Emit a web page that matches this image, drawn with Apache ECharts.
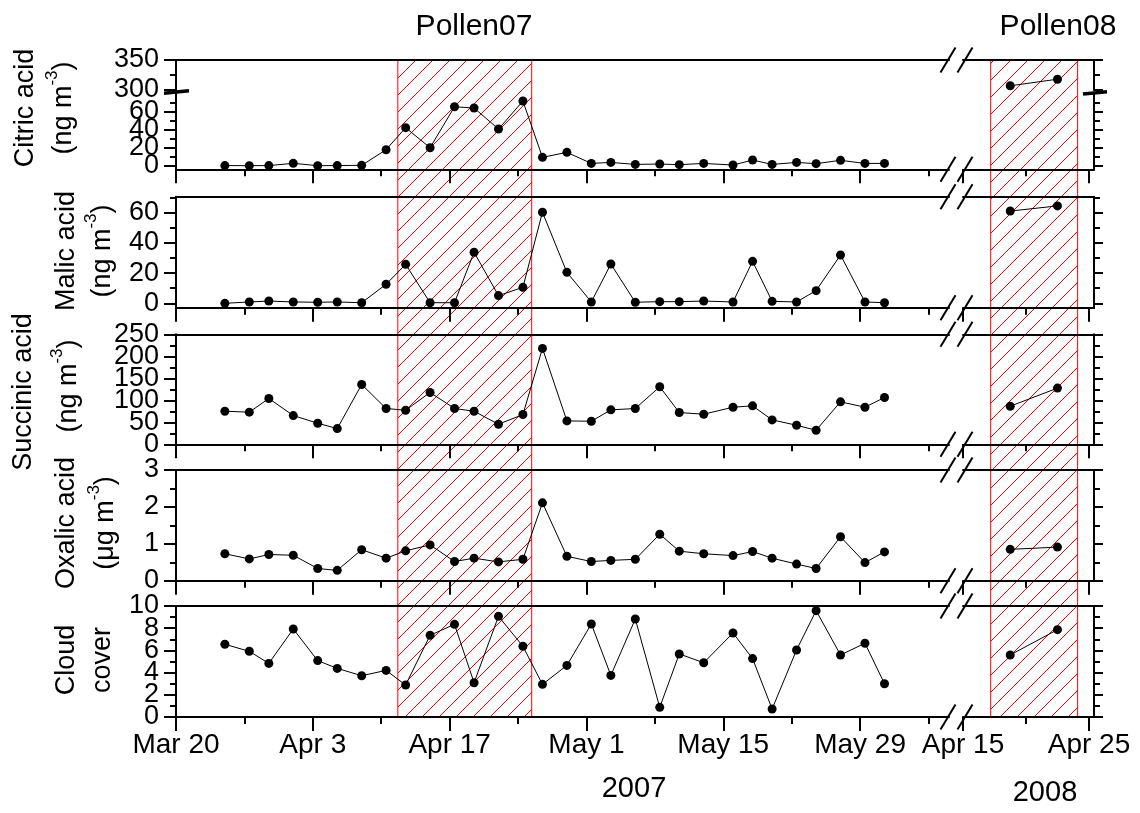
<!DOCTYPE html>
<html>
<head>
<meta charset="utf-8">
<script src="https://cdn.jsdelivr.net/npm/echarts@6/dist/echarts.min.js"></script>
<style>
  html, body { margin: 0; padding: 0; background: #fff; }
  #chart { width: 1140px; height: 813px; }
</style>
</head>
<body>
<div id="chart"></div>
<script>
// sampling days, counted from Mar 20 2007 / Apr 15 2008
var days07 = [5, 7.5, 9.5, 12, 14.5, 16.5, 19, 21.5, 23.5, 26, 28.5, 30.5, 33, 35.5, 37.5,
              40, 42.5, 44.5, 47, 49.5, 51.5, 54, 57, 59, 61, 63.5, 65.5, 68, 70.5, 72.5];
var days08 = [3.75, 7.5];

var citric07 = [0.5, 0.4, 0.5, 3, 0.4, 0.5, 0.8, 18, 42.3, 20.2, 65.4, 64, 40.8, 71.7, 9.6,
                15.1, 2.9, 4, 1.8, 2.2, 1.5, 2.9, 1.1, 6.6, 1.8, 4, 2.6, 6.3, 2.9, 2.9];
var citric08 = [307, 318];
var malic07 = [0, 0.9, 1.5, 0.9, 0.7, 0.9, 0.4, 12.6, 25.8, 0.4, 0.4, 33.8, 5.1, 10.6, 60.3,
               20.5, 0.9, 26, 0.7, 1.1, 1.1, 1.5, 0.9, 27.8, 1.3, 0.9, 8.4, 32, 0.9, 0.4];
var malic08 = [61.1, 64.5];
var succinic07 = [75.2, 73, 104.1, 65.3, 47.9, 35.7, 136, 81.3, 77.5, 117.8, 81.3, 75.2, 45.6, 67.6, 218,
                  53.2, 52.4, 78.3, 81.3, 130.7, 72.2, 68.4, 84.3, 87.4, 55.5, 43.3, 31.9, 96.5, 84.3, 106.4];
var succinic08 = [86.6, 127.7];
var oxalic07 = [0.73, 0.59, 0.71, 0.69, 0.33, 0.28, 0.84, 0.61, 0.81, 0.97, 0.52, 0.61, 0.51, 0.58, 2.11,
                0.66, 0.52, 0.55, 0.58, 1.26, 0.8, 0.73, 0.68, 0.79, 0.61, 0.45, 0.33, 1.19, 0.49, 0.78];
var oxalic08 = [0.85, 0.91];
var cloud07 = [6.55, 5.92, 4.83, 7.93, 5.08, 4.38, 3.72, 4.2, 2.88, 7.36, 8.35, 3.09, 9.07, 6.37, 2.94,
               4.65, 8.38, 3.75, 8.83, 0.87, 5.68, 4.89, 7.57, 5.26, 0.72, 6.04, 9.58, 5.59, 6.64, 3.0];
var cloud08 = [5.59, 7.87];

// pollen periods (day offsets)
var pollen07 = [22.7, 36.4];
var pollen08 = [2.2, 9.1];

// x ticks
var xMajor07 = [0, 14, 28, 42, 56, 70];
var xLabels07 = ['Mar 20', 'Apr 3', 'Apr 17', 'May 1', 'May 15', 'May 29'];
var xMinor07 = [7, 21, 35, 49, 63, 77];
var xMajor08 = [0, 10];
var xLabels08 = ['Apr 15', 'Apr 25'];
var xMinor08 = [5];

// y ticks
var citricHiTicks = [300, 350], citricHiMinor = [325];
var citricLoTicks = [0, 20, 40, 60], citricLoMinor = [10, 30, 50, 70];
var malicTicks = [0, 20, 40, 60], malicMinor = [10, 30, 50, 70];
var succinicTicks = [0, 50, 100, 150, 200, 250], succinicMinor = [25, 75, 125, 175, 225];
var oxalicTicks = [0, 1, 2, 3], oxalicMinor = [0.5, 1.5, 2.5];
var cloudTicks = [0, 2, 4, 6, 8, 10], cloudMinor = [1, 3, 5, 7, 9];

var FONT = 'Liberation Sans';
var LINE = {color: '#000', width: 2};

var seg07 = {left: 176, width: 773, min: 0, max: 79.1, major: xMajor07, minor: xMinor07, labels: xLabels07};
var seg08 = {left: 963, width: 131, min: 0, max: 10.4, major: xMajor08, minor: xMinor08, labels: xLabels08};

var rows = [
    {top: 60, height: 30, min: 300, max: 350, major: citricHiTicks, minor: citricHiMinor,
     d07: null, d08: citric08, topLine: true, botLine: false},
    {top: 93.5, height: 75.8, min: -3.6, max: 80, major: citricLoTicks, minor: citricLoMinor,
     d07: citric07, d08: null, topLine: false, botLine: true},
    {top: 196.7, height: 111, min: -2.9, max: 70.6, major: malicTicks, minor: malicMinor,
     d07: malic07, d08: malic08, topLine: true, botLine: true},
    {top: 334.3, height: 110, min: 0, max: 250, major: succinicTicks, minor: succinicMinor,
     d07: succinic07, d08: succinic08, topLine: true, botLine: true},
    {top: 470, height: 110.7, min: 0, max: 3, major: oxalicTicks, minor: oxalicMinor,
     d07: oxalic07, d08: oxalic08, topLine: true, botLine: true},
    {top: 606, height: 111, min: 0, max: 10, major: cloudTicks, minor: cloudMinor,
     d07: cloud07, d08: cloud08, topLine: true, botLine: true, last: true}
];

function zip(xs, ys) {
    return xs.map(function (x, i) { return [x, ys[i]]; });
}
function everyOther(list, start) {
    return list.filter(function (v, i) { return i % 2 === start; });
}

function axis(grid, pos, min, max, line, ticks, tickLen, labels, labelOpt) {
    return {
        type: 'value', gridIndex: grid, position: pos, min: min, max: max, z: 3,
        splitLine: {show: false},
        axisLine: {show: line, onZero: false, lineStyle: LINE},
        axisTick: ticks ? {show: true, inside: false, customValues: ticks, length: tickLen, lineStyle: LINE} : {show: false},
        axisLabel: labels && labels.length ? Object.assign({show: true, customValues: labels, color: '#000',
            fontFamily: FONT, fontSize: 28, showMinLabel: true, showMaxLabel: true, hideOverlap: false},
            labelOpt) : {show: false}
    };
}

var grids = [], xAxes = [], yAxes = [], series = [];

rows.forEach(function (row) {
    [seg07, seg08].forEach(function (seg, si) {
        var g = grids.length;
        grids.push({left: seg.left, top: row.top, width: seg.width, height: row.height, outerBoundsMode: 'none'});

        var xi = xAxes.length;
        xAxes.push(axis(g, 'bottom', seg.min, seg.max, row.botLine, row.botLine ? seg.major : null, 14,
            row.last ? seg.major : null, {margin: 14, formatter: function (v) {
                return seg.labels[seg.major.indexOf(v)] || '';
            }}));
        xAxes.push(axis(g, 'bottom', seg.min, seg.max, false, row.botLine ? seg.minor : null, 7, null));
        xAxes.push(axis(g, 'top', seg.min, seg.max, row.topLine, null, 0, null));

        // labels are shared between two overlaid axes so close labels are not dropped
        var yi = yAxes.length;
        var side = si === 0 ? 'left' : 'right';
        var yLab = {margin: 17, fontSize: 27};
        yAxes.push(axis(g, side, row.min, row.max, true, row.major, si === 0 ? 12 : 9,
            si === 0 ? everyOther(row.major, 0) : null, yLab));
        yAxes.push(axis(g, side, row.min, row.max, false, row.minor, 6,
            si === 0 ? everyOther(row.major, 1) : null, yLab));

        var d = si === 0 ? row.d07 : row.d08;
        if (d) {
            series.push({
                type: 'line', xAxisIndex: xi, yAxisIndex: yi,
                data: zip(si === 0 ? days07 : days08, d),
                symbol: 'circle', symbolSize: 9, showSymbol: true, clip: false, z: 5, silent: true,
                itemStyle: {color: '#000'}, lineStyle: {color: '#000', width: 1}
            });
        }
    });
});

function hatchCanvas() {
    var s = 17;
    var c = document.createElement('canvas');
    c.width = s; c.height = s;
    var ctx = c.getContext('2d');
    ctx.strokeStyle = '#ff0000';
    ctx.lineWidth = 1;
    ctx.beginPath();
    ctx.moveTo(0, s); ctx.lineTo(s, 0);
    ctx.moveTo(-s / 2, s / 2); ctx.lineTo(s / 2, -s / 2);
    ctx.moveTo(s / 2, s * 1.5); ctx.lineTo(s * 1.5, s / 2);
    ctx.stroke();
    return c;
}
var hatch = {image: hatchCanvas(), repeat: 'repeat'};

// full height grids for the pollen periods
[[seg07, pollen07], [seg08, pollen08]].forEach(function (p) {
    var seg = p[0], period = p[1];
    var g = grids.length;
    grids.push({left: seg.left, top: 60, width: seg.width, height: 657, outerBoundsMode: 'none'});
    var xi = xAxes.length, yi = yAxes.length;
    xAxes.push({type: 'value', gridIndex: g, min: seg.min, max: seg.max, show: false});
    yAxes.push({type: 'value', gridIndex: g, min: 0, max: 1, show: false});
    series.push({
        type: 'line', xAxisIndex: xi, yAxisIndex: yi, z: 1, silent: true,
        data: period.map(function (v) { return [v, 0.5]; }),
        showSymbol: false, lineStyle: {opacity: 0},
        markArea: {
            silent: true,
            itemStyle: {color: hatch, borderColor: '#ff0000', borderWidth: 1},
            label: {show: false},
            data: [[{xAxis: period[0]}, {xAxis: period[1]}]]
        }
    });
});

// texts and break marks
var RICH = {
    n: {fontFamily: FONT, fontSize: 27, lineHeight: 40},
    s: {fontFamily: FONT, fontSize: 17, lineHeight: 17, verticalAlign: 'top'}
};
function vtext(x, y, text) {
    return {
        type: 'text', x: x, y: y, rotation: Math.PI / 2, z: 10,
        style: {text: text, fill: '#000', font: '27px ' + FONT, align: 'center', verticalAlign: 'middle',
                textAlign: 'center', textVerticalAlign: 'middle', rich: RICH}
    };
}
function htext(x, y, text, size) {
    return {
        type: 'text', x: x, y: y, z: 10,
        style: {text: text, fill: '#000', font: size + 'px ' + FONT, align: 'center', verticalAlign: 'middle',
                textAlign: 'center', textVerticalAlign: 'middle'}
    };
}
var ngUnit = '{n|(ng m}{s|-3}{n|)}';
var ugUnit = '{n|(\u03bcg m}{s|-3}{n|)}';

var elements = [
    vtext(26, 108, 'Citric acid'), vtext(64, 108, ngUnit),
    vtext(67, 251, 'Malic acid'), vtext(103, 251, ngUnit),
    vtext(24, 392, 'Succinic acid'), vtext(69, 386, ngUnit),
    vtext(67, 523, 'Oxalic acid'), vtext(106, 523, ugUnit),
    vtext(67, 660, 'Cloud'), vtext(103, 660, 'cover'),
    htext(474, 27, 'Pollen07', 30), htext(1058, 27, 'Pollen08', 30),
    htext(634, 789, '2007', 29), htext(1045, 793, '2008', 29)
];

function seg(x1, y1, x2, y2, w) {
    return {type: 'line', z: 10, shape: {x1: x1, y1: y1, x2: x2, y2: y2},
            style: {stroke: '#000', lineWidth: w}};
}
rows.forEach(function (row) {
    var ys = [];
    if (row.topLine) ys.push(row.top);
    if (row.botLine) ys.push(row.top + row.height);
    ys.forEach(function (y) {
        [948, 965].forEach(function (x) {
            elements.push(seg(x - 7.5, y + 12.5, x + 7.5, y - 12.5, 2));
        });
    });
});
// y axis break of the citric panel
elements.push(seg(164, 93.3, 189, 90.7, 3.5));
elements.push(seg(1083, 94, 1107, 91.7, 3.5));

var chart = echarts.init(document.getElementById('chart'));
chart.setOption({
    animation: false,
    backgroundColor: '#fff',
    grid: grids,
    xAxis: xAxes,
    yAxis: yAxes,
    series: series,
    graphic: {elements: elements}
});
</script>
</body>
</html>
